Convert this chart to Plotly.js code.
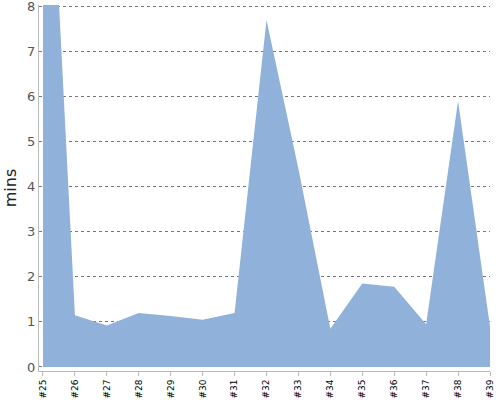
<!DOCTYPE html>
<html><head><meta charset="utf-8">
<script src="https://cdn.plot.ly/plotly-3.0.1.min.js"></script>
<style>html,body{margin:0;padding:0;background:#fff}#chart{width:500px;height:400px}</style>
</head><body><div id="chart"></div>
<script>
const categories = ["#25","#26","#27","#28","#29","#30","#31","#32","#33","#34","#35","#36","#37","#38","#39"];
const minsValues = [15.0,1.15,0.92,1.2,1.13,1.05,1.2,7.7,4.4,0.85,1.85,1.78,0.95,5.9,0.9];
const yTicks = [0,1,2,3,4,5,6,7,8];

const xIdx = categories.map((c,i)=>i);
Plotly.newPlot('chart', [{
  x: xIdx, y: minsValues, type: 'scatter', mode: 'lines',
  fill: 'tozeroy', fillcolor: 'rgb(143,177,218)',
  line: {width: 0, color: 'rgb(143,177,218)'}, hoverinfo: 'none'
}], {
  width: 500, height: 400,
  margin: {l: 39, r: 10, t: 5, b: 29},
  paper_bgcolor: '#fff', plot_bgcolor: '#fff',
  showlegend: false,
  font: {family: 'DejaVu Sans', color: '#555'},
  xaxis: {
    range: [-0.125, 14], tickmode: 'array', tickvals: xIdx, ticktext: categories,
    tickangle: -90, tickfont: {size: 9, color: '#000'},
    ticks: 'outside', ticklen: 4, tickcolor: '#bbb',
    showline: true, linecolor: '#bbb', linewidth: 1,
    showgrid: false, zeroline: false, fixedrange: true
  },
  yaxis: {
    range: [-0.089, 8.03], tickmode: 'array', tickvals: yTicks,
    tickfont: {size: 13, color: '#555'}, ticklabeloverflow: 'allow',
    showline: true, linecolor: '#bbb', linewidth: 1,
    showgrid: true, gridcolor: '#777', griddash: 'dot', gridwidth: 1,
    zeroline: false, ticks: '',
    title: {text: 'mins', font: {size: 16, color: '#222'}, standoff: 6}
  }
}, {staticPlot: true});
</script></body></html>
